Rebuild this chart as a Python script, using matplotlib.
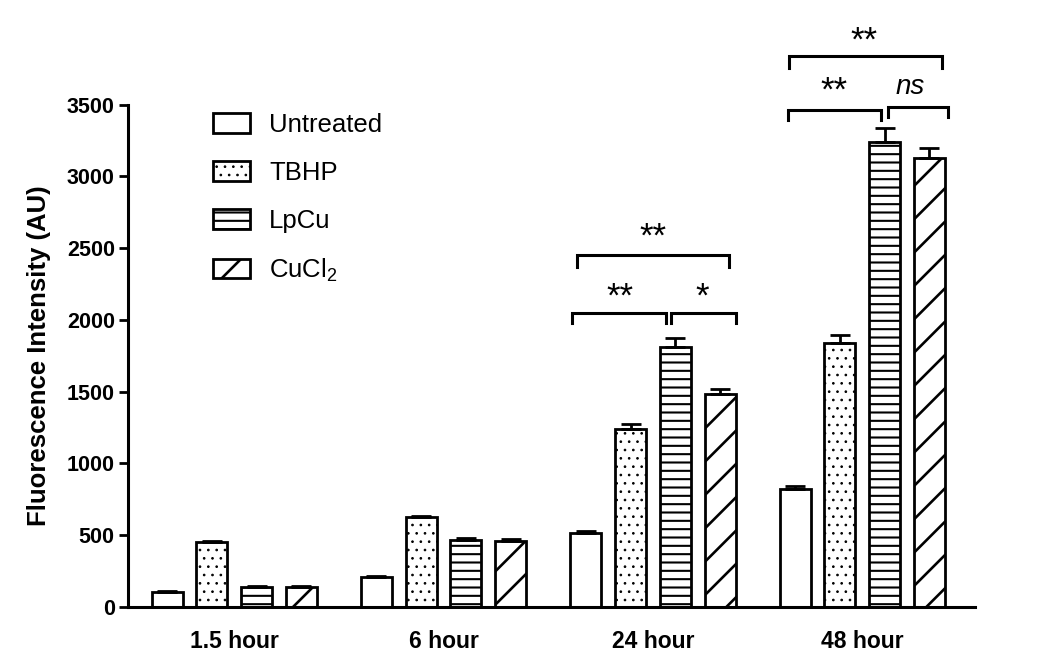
import numpy as np
import matplotlib
matplotlib.use("Agg")
import matplotlib.pyplot as plt

plt.rcParams['font.family'] = ['Liberation Sans', 'DejaVu Sans']
plt.rcParams['mathtext.fontset'] = 'custom'
plt.rcParams['mathtext.rm'] = 'Liberation Sans'
plt.rcParams['mathtext.default'] = 'regular'

# Data
groups = ['1.5 hour', '6 hour', '24 hour', '48 hour']
series = ['Untreated', 'TBHP', 'LpCu', 'CuCl$_2$']
untreated = [105, 207, 511, 820]
untreated_err = [6, 8, 19, 23]
tbhp = [449, 625, 1241, 1841]
tbhp_err = [11, 9, 31, 53]
lpcu = [139, 465, 1808, 3240]
lpcu_err = [5, 16, 63, 95]
cucl2 = [139, 456, 1483, 3131]
cucl2_err = [5, 16, 37, 65]

values = [untreated, tbhp, lpcu, cucl2]
errors = [untreated_err, tbhp_err, lpcu_err, cucl2_err]
hatches = ['', '..', '--', '/']
hatch_lw = [1.0, 0.7, 1.5, 1.9]

# significance brackets: (x1, x2, y, drop, label, italic, label_x, label_y)
brackets = [
    (1.636, 2.364, 2452, 82, '**', False, 1.999, 2510),
    (1.615, 2.061, 2046, 66, '**', False, 1.843, 2090),
    (2.085, 2.395, 2046, 66, '*', False, 2.233, 2090),
    (2.650, 3.379, 3840, 82, '**', False, 3.008, 3875),
    (2.643, 3.087, 3463, 70, '**', False, 2.864, 3530),
    (3.121, 3.410, 3486, 70, 'ns', True, 3.227, 3576),
]

fig = plt.figure(figsize=(10.5, 6.68), dpi=100)
ax = fig.add_axes([128 / 1050, 61.3 / 668, 847 / 1050, 606.7 / 668])

x = np.arange(len(groups))
pitch = 0.2135
width = 0.148
handles = []
for i, (vals, errs, h, name) in enumerate(zip(values, errors, hatches, series)):
    pos = x + (i - 1.5) * pitch
    plt.rcParams['hatch.linewidth'] = hatch_lw[i]
    b = ax.bar(pos, vals, width, color='white', edgecolor='black', linewidth=2,
               hatch=h, label=name, zorder=2)
    for p in b.patches:
        if hasattr(p, 'set_hatch_linewidth'):
            p.set_hatch_linewidth(hatch_lw[i])
    ax.errorbar(pos, vals, yerr=[np.zeros(len(errs)), errs], fmt='none',
                ecolor='black', elinewidth=2, capsize=7, capthick=2, zorder=3)
    handles.append(b)

for x1, x2, y, drop, lab, ital, lx, ly in brackets:
    ax.plot([x1, x1, x2, x2], [y - drop, y, y, y - drop], color='black', lw=2.2,
            clip_on=False, solid_joinstyle='miter')
    ax.text(lx, ly, lab, ha='center', va='baseline',
            fontsize=20 if ital else 25,
            style='italic' if ital else 'normal')

ax.set_xlim(-0.507, 3.538)
ax.set_ylim(0, 4230)
ax.set_yticks(np.arange(0, 3501, 500))
ax.set_xticks(x)
ax.set_xticklabels(groups, fontweight='bold', fontsize=16.5)
for lbl in ax.get_yticklabels():
    lbl.set_fontweight('bold')
    lbl.set_fontsize(15.5)
ax.tick_params(axis='x', length=0, pad=17)
ax.tick_params(axis='y', length=6.5, width=2, pad=3)
ax.spines['top'].set_visible(False)
ax.spines['right'].set_visible(False)
ax.spines['left'].set_linewidth(2.2)
ax.spines['bottom'].set_linewidth(2.2)
ax.spines['left'].set_bounds(0, 3500)
ax.patch.set_alpha(0)

fig.text(39 / 1050, 1 - 356 / 668, 'Fluorescence Intensity (AU)', rotation=90,
         ha='center', va='center', fontsize=18.5, fontweight='bold')

leg = ax.legend(handles=handles, loc='upper left', bbox_to_anchor=(213 / 1050, 1 - 113 / 668),
                bbox_transform=fig.transFigure, frameon=False, fontsize=18.5,
                borderpad=0, borderaxespad=0, handlelength=1.44, handleheight=0.78,
                labelspacing=0.93, handletextpad=0.74)
for lh, lw in zip(leg.legend_handles, hatch_lw):
    if hasattr(lh, 'set_hatch_linewidth'):
        lh.set_hatch_linewidth(lw)

fig.savefig('out.png', dpi=100, facecolor='white')
